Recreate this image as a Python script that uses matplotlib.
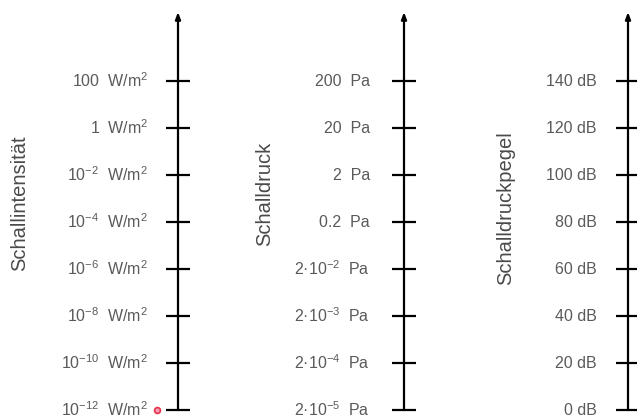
import matplotlib.pyplot as plt

plt.rcParams['font.family'] = ['Liberation Sans', 'DejaVu Sans']
plt.rcParams['mathtext.fontset'] = 'custom'
plt.rcParams['mathtext.rm'] = 'Liberation Sans'
plt.rcParams['mathtext.it'] = 'Liberation Sans'
plt.rcParams['mathtext.default'] = 'regular'

titles = ['Schallintensität', 'Schalldruck', 'Schalldruckpegel']

# labels bottom -> top
intensity = [r'$10^{-12}$  W/m$^{2}$', r'$10^{-10}$  W/m$^{2}$', r'$10^{-8}$  W/m$^{2}$',
             r'$10^{-6}$  W/m$^{2}$', r'$10^{-4}$  W/m$^{2}$', r'$10^{-2}$  W/m$^{2}$',
             r'1  W/m$^{2}$', r'100  W/m$^{2}$']
pressure = [r'2·$10^{-5}$  Pa', r'2·$10^{-4}$  Pa', r'2·$10^{-3}$  Pa', r'2·$10^{-2}$  Pa',
            '0.2  Pa', '2  Pa', '20  Pa', '200  Pa']
level = ['0 dB', '20 dB', '40 dB', '60 dB', '80 dB', '100 dB', '120 dB', '140 dB']
scales = [intensity, pressure, level]

axis_x = [178, 404, 628]
label_x = [148, 370, 597]
title_x = [20, 265, 506]
title_y = [4.4, 4.6, 4.3]

fig = plt.figure(figsize=(6.37, 4.19), dpi=100)
ax = fig.add_axes([0, 0, 1, 1])
ax.set_xlim(0, 637)
ax.set_ylim(-9 / 47, 410 / 47)
ax.axis('off')

top = 398 / 47
for x, lx, labels, title, tx, ty in zip(axis_x, label_x, scales, titles, title_x, title_y):
    ax.annotate('', xy=(x, top), xytext=(x, 0),
                arrowprops=dict(arrowstyle='-|>,head_length=0.4,head_width=0.15',
                                color='black', lw=1.6, shrinkA=0, shrinkB=0))
    for i, lab in enumerate(labels):
        ax.plot([x - 12, x + 12], [i, i], color='black', lw=1.6, solid_capstyle='butt')
        ax.text(lx, i, lab, ha='right', va='center', fontsize=11.5, color='#5a5a5a')
    ax.text(tx, ty, title, rotation=90, ha='center', va='center', fontsize=14.5, color='#4a4a4a')

ax.scatter([157], [0], s=18, facecolor='#f4a0b0', edgecolor='#e8304f', lw=1.2, zorder=3)

fig.savefig('out.png', dpi=100)
